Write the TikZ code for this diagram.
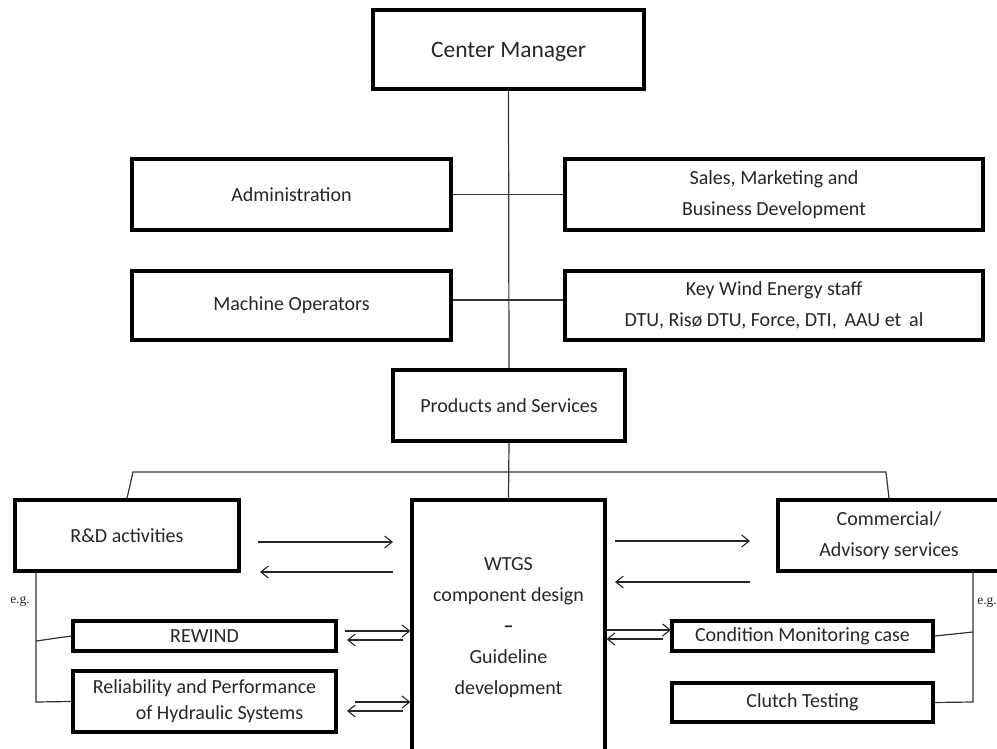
\documentclass[tikz,border=0pt]{standalone}
\usepackage{fontspec}
\setmainfont{Carlito}
\newfontfamily\egfont{Liberation Serif}
\usetikzlibrary{arrows.meta}
\tikzset{
  orgbox/.style={draw, line width=3.2pt, rectangle, inner sep=0pt, align=center,
    font=\fontsize{20}{31}\selectfont, text=black!85},
  conn/.style={line width=1.2pt, black!80},
  flow/.style={line width=1.1pt, black!85, -{Straight Barb[length=7.5pt,width=12pt,line width=1.1pt]}},
  eg/.style={font=\egfont\fontsize{13.5}{14}\selectfont, inner sep=0pt, text=black!85}
}
\begin{document}
\begin{tikzpicture}[x=1pt,y=-1pt]
\useasboundingbox (0,0) rectangle (997,749);
% boxes
\node[orgbox, minimum width=271pt, minimum height=79pt, font=\fontsize{23.5}{26}\selectfont] (cm) at (508.5,49.5) {\raisebox{-8pt}[0pt][0pt]{Center Manager}};
\node[orgbox, minimum width=319pt, minimum height=71pt] (adm) at (291.5,194.5) {Administration};
\node[orgbox, minimum width=418pt, minimum height=71pt] (sales) at (774,194.5) {Sales, Marketing and\\Business Development};
\node[orgbox, minimum width=319pt, minimum height=69pt] (mach) at (291.5,305.5) {Machine Operators};
\node[orgbox, minimum width=418pt, minimum height=69pt] (key) at (774,305.5) {Key Wind Energy staff\\DTU, Risø DTU, Force, DTI,\, AAU et\, al};
\node[orgbox, minimum width=232pt, minimum height=71pt] (prod) at (509,405.5) {Products and Services};
\node[orgbox, minimum width=224pt, minimum height=71pt] (rd) at (127,535.5) {R\&D activities};
\node[orgbox, minimum width=193pt, minimum height=256pt] (wtgs) at (508.5,628) {WTGS\\component design\\\textbf{–}\\Guideline\\development};
\node[orgbox, minimum width=222pt, minimum height=71pt] (com) at (889,535.5) {Commercial/\\Advisory services};
\node[orgbox, minimum width=263pt, minimum height=30pt] (rew) at (204.5,636) {REWIND};
\node[orgbox, minimum width=263pt, minimum height=61pt, font=\fontsize{20}{26}\selectfont] (hyd) at (204.5,701.5) {Reliability and Performance\\\hspace*{30pt}of Hydraulic Systems};
\node[orgbox, minimum width=261pt, minimum height=30pt] (cond) at (802.5,636) {Condition Monitoring case};
\node[orgbox, minimum width=261pt, minimum height=39pt] (clutch) at (802.5,702.5) {Clutch Testing};
% trunk
\draw[conn] (cm.south) -- (prod.north);
\draw[conn] (adm.east) -- (sales.west);
\draw[conn] ([yshift=5.5pt]mach.east) -- ([yshift=5.5pt]key.west);
\draw[conn] (prod.south) -- (wtgs.north);
\coordinate (bl) at (133,472);
\coordinate (br) at (886,472);
\draw[conn] (rd.north) -- (bl) -- (br) -- (com.north);
% left e.g. branch
\coordinate (lt) at (36,571);
\coordinate (lm) at (36,641);
\coordinate (lb) at (36,702);
\draw[conn] (lt) -- (lb) -- (hyd.west);
\draw[conn] (lm) -- (rew.west);
% right e.g. branch
\coordinate (rt) at (973,571);
\coordinate (rm) at (973,632);
\coordinate (rb) at (973,702);
\draw[conn] (rt) -- (rb) -- (clutch.east);
\draw[conn] (rm) -- (cond.east);
\node[eg] (eg1) at (20,601) {e.g.};
\node[eg] (eg2) at (987,602) {e.g.};
% flow arrows
\coordinate (a1s) at (258,542); \coordinate (a1e) at (393,542);
\coordinate (a2s) at (393,572); \coordinate (a2e) at (260,572);
\coordinate (a3s) at (615,541); \coordinate (a3e) at (750,541);
\coordinate (a4s) at (750,582); \coordinate (a4e) at (615,582);
\draw[flow] (a1s) -- (a1e);
\draw[flow] (a2s) -- (a2e);
\draw[flow] (a3s) -- (a3e);
\draw[flow] (a4s) -- (a4e);
% double arrows
\draw[flow] (345,631) -- (wtgs.west |- 0,631);
\draw[flow] (403,640) -- (347,640);
\draw[flow] (355,702) -- (wtgs.west |- 0,702);
\draw[flow] (403,711) -- (347,711);
\draw[flow] (wtgs.east |- 0,630) -- (671,630);
\draw[flow] (663,639) -- (wtgs.east |- 0,639);
\end{tikzpicture}
\end{document}
